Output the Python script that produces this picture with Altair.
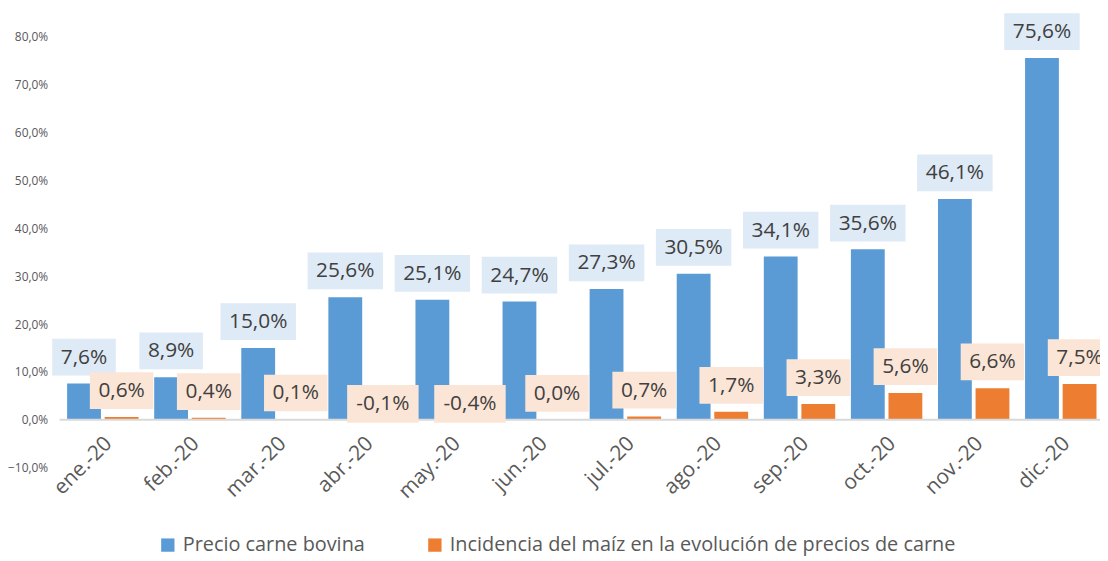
import altair as alt
import pandas as pd

months = ["ene.-20", "feb.-20", "mar.-20", "abr.-20", "may.-20", "jun.-20",
          "jul.-20", "ago.-20", "sep.-20", "oct.-20", "nov.-20", "dic.-20"]
carne = [7.6, 8.9, 15.0, 25.6, 25.1, 24.7, 27.3, 30.5, 34.1, 35.6, 46.1, 75.6]
maiz = [0.6, 0.4, 0.1, -0.1, -0.4, 0.0, 0.7, 1.7, 3.3, 5.6, 6.6, 7.5]
series = ["Precio carne bovina", "Incidencia del maíz en la evolución de precios de carne"]
colors = ["#5B9BD5", "#ED7D31"]
box_colors = ["#DEEAF6", "#FBE5D6"]
y_ticks = [-10, 0, 10, 20, 30, 40, 50, 60, 70, 80]

rows = []
for s, vals in zip(series, [carne, maiz]):
    for m, v in zip(months, vals):
        rows.append({"month": m, "series": s, "value": v,
                     "label": f"{v:.1f}".replace(".", ",") + "%"})
df = pd.DataFrame(rows)

FONT = "Open Sans"
W, H = 1052, 434

x_enc = alt.X("month:N", sort=months, axis=None,
              scale=alt.Scale(paddingInner=0.18, paddingOuter=0.086))
xo_enc = alt.XOffset("series:N", sort=series,
                     scale=alt.Scale(domain=series, paddingInner=0.1))
y_scale = alt.Scale(domain=[-10, 80], nice=False, zero=False)

base = alt.Chart(df)

bars = base.mark_bar().encode(
    x=x_enc, xOffset=xo_enc,
    y=alt.Y("value:Q", scale=y_scale, title=None,
            axis=alt.Axis(values=y_ticks, grid=False, domain=False, ticks=False,
                          labelExpr="replace(format(datum.value, '.1f'), '.', ',') + '%'",
                          labelFont=FONT, labelFontSize=12, labelColor="#595959",
                          labelPadding=12)),
    y2=alt.datum(0),
    color=alt.Color("series:N", sort=series,
                    scale=alt.Scale(domain=series, range=colors),
                    legend=alt.Legend(title=None, orient="none", legendX=99, legendY=502,
                                      direction="horizontal", symbolType="square",
                                      symbolSize=180, symbolStrokeWidth=0,
                                      labelFont=FONT, labelFontSize=20, labelLimit=0,
                                      labelColor="#595959", columnPadding=60,
                                      labelOffset=5)),
)

zero = alt.Chart(pd.DataFrame({"z": [0]})).mark_rule(color="#D9D9D9", strokeWidth=2).encode(
    y=alt.Y("z:Q", scale=y_scale), x=alt.value(0), x2=alt.value(W))

layers = [bars, zero]

for s, bc in zip(series, box_colors):
    sel = base.transform_filter(alt.datum.series == s)
    pos = sel.transform_filter(alt.datum.value >= 0)
    neg = sel.transform_filter(alt.datum.value < 0).transform_calculate(z="0")
    for ln, wd in [(4, 64), (5, 76)]:
        layers.append(
            pos.transform_filter(f"length(datum.label) == {ln}")
            .mark_bar(width=wd, color=bc, yOffset=-45, y2Offset=-8)
            .encode(x=x_enc, xOffset=xo_enc,
                    y=alt.Y("value:Q", scale=y_scale), y2="value:Q"))
    layers.append(
        neg.mark_bar(width=72, color=bc, yOffset=-35, y2Offset=3)
        .encode(x=x_enc, xOffset=xo_enc,
                y=alt.Y("z:Q", scale=y_scale), y2="z:Q"))
    layers.append(
        pos.mark_text(font=FONT, fontSize=21, color="#404040", baseline="middle",
                      align="center", yOffset=-26)
        .encode(x=x_enc, xOffset=xo_enc, y=alt.Y("value:Q", scale=y_scale),
                text="label:N"))
    layers.append(
        neg.mark_text(font=FONT, fontSize=21, color="#404040", baseline="middle",
                      align="center", yOffset=-16)
        .encode(x=x_enc, xOffset=xo_enc, y=alt.Y("z:Q", scale=y_scale),
                text="label:N"))

mdf = pd.DataFrame({"month": months, "z": [0] * len(months)})
xlabels = alt.Chart(mdf).mark_text(font=FONT, fontSize=21, color="#595959",
                                   angle=315, align="right", baseline="middle",
                                   xOffset=6, yOffset=21).encode(
    x=x_enc, y=alt.Y("z:Q", scale=y_scale), text="month:N")
layers.append(xlabels)

chart = alt.layer(*layers).properties(
    width=W, height=H, background="white",
    autosize=alt.AutoSizeParams(type="none"),
    padding={"left": 52, "top": 27, "right": -4, "bottom": 92},
).configure_view(stroke=None)

chart.save("out.html", embed_options={"renderer": "svg", "actions": False})
